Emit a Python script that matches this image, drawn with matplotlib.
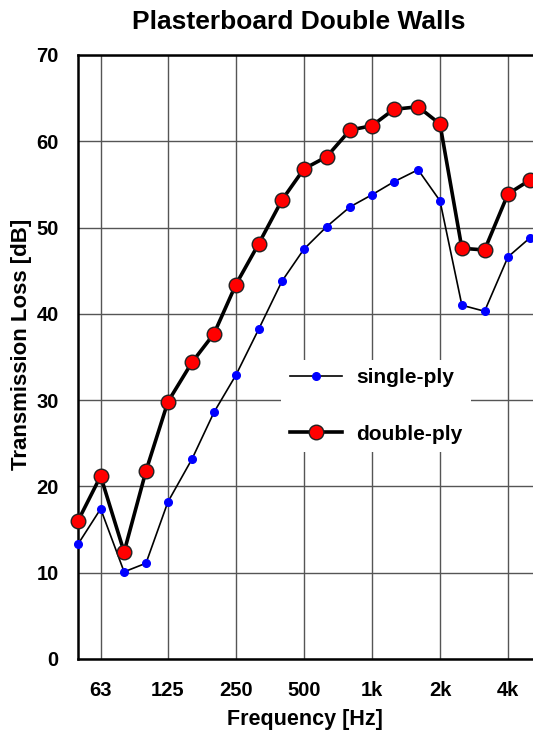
import matplotlib
matplotlib.use("Agg")
import matplotlib.pyplot as plt

plt.rcParams['font.family'] = ['Liberation Sans', 'DejaVu Sans']
plt.rcParams['font.weight'] = 'bold'

# third-octave band centre frequencies [Hz]
freqs = [50, 63, 80, 100, 125, 160, 200, 250, 315, 400, 500, 630, 800,
         1000, 1250, 1600, 2000, 2500, 3150, 4000, 5000]

single_ply = [13.3, 17.4, 10.1, 11.1, 18.2, 23.2, 28.6, 32.9, 38.2, 43.8, 47.5,
              50.1, 52.4, 53.8, 55.3, 56.7, 53.1, 41.0, 40.3, 46.6, 48.8]
double_ply = [16.0, 21.2, 12.4, 21.8, 29.8, 34.4, 37.7, 43.4, 48.1, 53.2, 56.8,
              58.2, 61.3, 61.8, 63.7, 64.0, 62.0, 47.6, 47.4, 53.9, 55.5]

xticks = [63, 125, 250, 500, 1000, 2000, 4000]
xtick_labels = ['63', '125', '250', '500', '1k', '2k', '4k']

fig = plt.figure(figsize=(5.33, 7.31), dpi=100)
# axes run past the right edge of the figure (picture is cropped there)
ax = fig.add_axes([0.1463, 0.0985, 0.9755, 0.8263])

ax.set_xscale('log')
ax.set_xlim(50, 10000)
ax.set_ylim(0, 70)

ax.plot(freqs, single_ply, color='black', lw=1.2, marker='o', ms=5.5,
        mfc='#0000ff', mec='#0000ff', label='single-ply', clip_on=False, zorder=3)
ax.plot(freqs, double_ply, color='black', lw=2.6, marker='o', ms=10.5,
        mfc='#ff0000', mec='#222222', mew=1.0, label='double-ply', clip_on=False, zorder=4)

ax.set_xticks(xticks)
ax.set_xticklabels(xtick_labels)
ax.minorticks_off()
ax.set_yticks(range(0, 71, 10))
ax.tick_params(length=0, labelsize=14.5)
ax.tick_params(axis='x', pad=16)
ax.tick_params(axis='y', pad=14)

ax.grid(True, color='#555555', lw=1.0)
ax.set_axisbelow(True)
for side in ['left', 'bottom', 'top']:
    ax.spines[side].set_linewidth(1.8)
ax.spines['right'].set_visible(False)

ax.set_xlabel('Frequency [Hz]', fontsize=15.5, fontweight='bold')
ax.xaxis.set_label_coords((305 - 78) / 520, -(720 - 659) / 604)
ax.xaxis.label.set_va('center')
ax.set_ylabel('Transmission Loss [dB]', fontsize=16, fontweight='bold')
ax.yaxis.set_label_coords(-(78 - 22) / 520, (659 - 344) / 604)
ax.yaxis.label.set_va('center')

fig.text(299 / 533, 1 - 22 / 731, 'Plasterboard Double Walls', ha='center', va='center',
         fontsize=19, fontweight='bold')

leg = fig.legend(loc='center', bbox_to_anchor=(376 / 533, 1 - 406 / 731),
                 fontsize=15, frameon=True, handlelength=2.5, handletextpad=0.7,
                 labelspacing=1.8, borderpad=0.4)
leg.get_frame().set_facecolor('white')
leg.get_frame().set_edgecolor('none')
leg.get_frame().set_alpha(1)
for t in leg.get_texts():
    t.set_fontweight('bold')

fig.savefig('out.png', dpi=100)
